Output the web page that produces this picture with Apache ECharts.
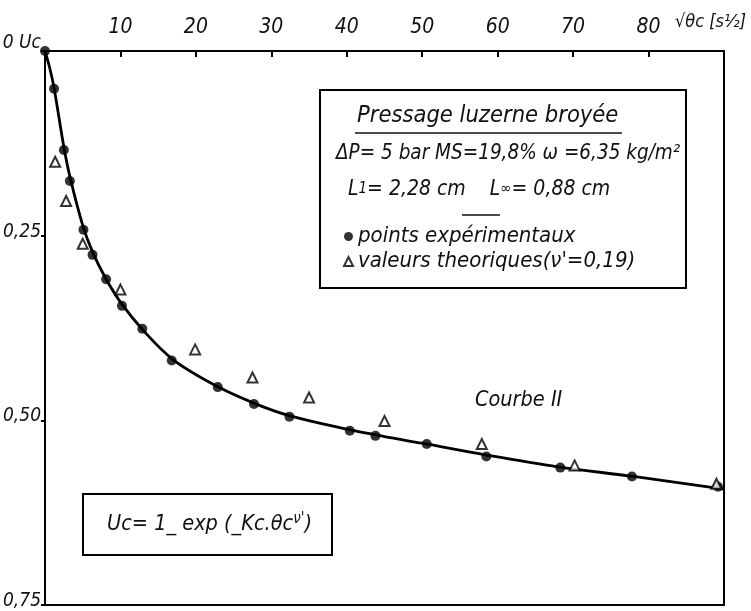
<!DOCTYPE html>
<html><head><meta charset="utf-8">
<script src="https://cdn.jsdelivr.net/npm/echarts@6/dist/echarts.min.js"></script>
<style>html,body{margin:0;padding:0;background:#fff}#c{width:751px;height:611px}</style>
</head><body><div id="c"></div>
<script>
// x: sqrt(theta_c) [s^1/2], y: Uc (axis inverted)
const xTicks = [10, 20, 30, 40, 50, 60, 70, 80];
const yTicks = [0, 0.25, 0.5, 0.75];
const expX = [0, 1.2, 2.5, 3.3, 5.1, 6.3, 8.1, 10.2, 12.9, 16.8, 22.9, 27.7, 32.4, 40.4, 43.8, 50.6, 58.5, 68.3, 77.8, 89.2];
const expY = [0, 0.051, 0.134, 0.176, 0.242, 0.276, 0.309, 0.345, 0.376, 0.419, 0.455, 0.478, 0.495, 0.514, 0.521, 0.532, 0.549, 0.564, 0.576, 0.590];
const theoX = [1.35, 2.8, 5.0, 10.0, 19.9, 27.5, 35.0, 45.0, 57.9, 70.2, 89.0];
const theoY = [0.150, 0.203, 0.261, 0.323, 0.404, 0.442, 0.469, 0.501, 0.532, 0.561, 0.586];
const curveX = [0, 0.6, 1.2, 2.5, 3.3, 5, 6.3, 8, 10, 13, 17, 23, 28, 32.5, 40, 45, 50, 58.5, 68, 78, 90];
const curveY = [0, 0.022, 0.05, 0.13, 0.17, 0.236, 0.272, 0.307, 0.34, 0.378, 0.418, 0.455, 0.478, 0.494, 0.512, 0.522, 0.531, 0.547, 0.563, 0.576, 0.593];

const zip = (a, b) => a.map((v, i) => [v, b[i]]);
const F = 'DejaVu Sans Condensed';
const chart = echarts.init(document.getElementById('c'), null, {renderer: 'canvas'});
chart.setOption({
  animation: false,
  backgroundColor: '#fff',
  grid: {left: 45, right: 27, top: 51, bottom: 6, outerBoundsMode: 'none', containLabel: false,
    show: true, borderColor: '#000', borderWidth: 2, backgroundColor: 'transparent'},
  xAxis: {
    type: 'value', position: 'top', min: 0, max: 90, interval: 10,
    axisLine: {show: true, lineStyle: {color: '#000', width: 2}},
    axisTick: {show: true, inside: true, length: 6, lineStyle: {color: '#000', width: 2}},
    axisLabel: {margin: 13, fontFamily: F, fontStyle: 'italic', fontSize: 21, color: '#111',
      formatter: v => xTicks.includes(v) ? String(v) : ''},
    splitLine: {show: false}
  },
  yAxis: {
    type: 'value', inverse: true, min: 0, max: 0.75, interval: 0.25,
    axisLine: {show: true, lineStyle: {color: '#000', width: 2}},
    axisTick: {show: true, inside: false, length: 4, lineStyle: {color: '#000', width: 2}},
    axisLabel: {margin: 4, fontFamily: F, fontStyle: 'italic', fontSize: 19, color: '#111', verticalAlign: 'middle',
      padding: [0, 0, 8, 0],
      rich: {z: {fontFamily: F, fontStyle: 'italic', fontSize: 19, color: '#111', padding: [0, 0, 8, 0]}},
      formatter: v => yTicks.includes(v) ? (v === 0 ? '{z|0 Uc}' : v.toFixed(2).replace('.', ',')) : ''},
    splitLine: {show: false}
  },
  legend: {
    orient: 'vertical', left: 343, top: 224, itemGap: 0, itemWidth: 9, itemHeight: 9, padding: 0,
    textStyle: {fontFamily: F, fontStyle: 'italic', fontSize: 22, lineHeight: 25, color: '#111'},
    data: ['points expérimentaux', "valeurs theoriques(ν'=0,19)"]
  },
  series: [
    {type: 'line', name: 'courbe', data: zip(curveX, curveY), smooth: 0.35, symbol: 'none',
      lineStyle: {color: '#000', width: 2.8}, z: 2},
    {type: 'scatter', name: 'points expérimentaux', data: zip(expX, expY), symbol: 'circle', symbolSize: 10,
      itemStyle: {color: '#000'}, z: 4},
    {type: 'scatter', name: "valeurs theoriques(ν'=0,19)", data: zip(theoX, theoY), symbol: 'triangle', symbolSize: 10,
      itemStyle: {color: '#fff', borderColor: '#000', borderWidth: 2}, z: 5}
  ],
  graphic: [
    {type: 'text', left: 675, top: 13, style: {text: '√θc [s½]', font: 'italic 18px "' + F + '"', fill: '#111'}},
    {type: 'rect', shape: {x: 320, y: 90, width: 366, height: 198}, style: {fill: 'none', stroke: '#000', lineWidth: 2}},
    {type: 'text', left: 357, top: 104, style: {text: 'Pressage luzerne broyée', font: 'italic 23.5px "' + F + '"', fill: '#111'}},
    {type: 'line', shape: {x1: 355, y1: 133, x2: 622, y2: 133}, style: {stroke: '#111', lineWidth: 1.5}},
    {type: 'text', left: 336, top: 144, style: {text: 'ΔP= 5 bar MS=19,8% ω =6,35 kg/m²', font: 'italic 20.5px "' + F + '"', fill: '#111'}},
    {type: 'text', left: 348, top: 179, style: {
      text: 'L{s|1}= 2,28 cm    L{s|∞}= 0,88 cm',
      rich: {s: {fontSize: 15, fontStyle: 'italic', fontFamily: F, fill: '#111'}},
      font: 'italic 21px "' + F + '"', fill: '#111'}},
    {type: 'line', shape: {x1: 462, y1: 215, x2: 500, y2: 215}, style: {stroke: '#111', lineWidth: 1.5}},
    {type: 'text', left: 475, top: 389, style: {text: 'Courbe II', font: 'italic 21.5px "' + F + '"', fill: '#111'}},
    {type: 'rect', shape: {x: 83, y: 494, width: 249, height: 61}, style: {fill: 'none', stroke: '#000', lineWidth: 2}},
    {type: 'text', left: 107, top: 512, style: {
      text: "Uc= 1_ exp (_Kc.θc{sup|ν'})",
      rich: {sup: {fontSize: 15, fontStyle: 'italic', fontFamily: F, fill: '#111', verticalAlign: 'top', padding: [0, 0, 10, 0]}},
      font: 'italic 21.5px "' + F + '"', fill: '#111'}}
  ]
});
</script></body></html>
